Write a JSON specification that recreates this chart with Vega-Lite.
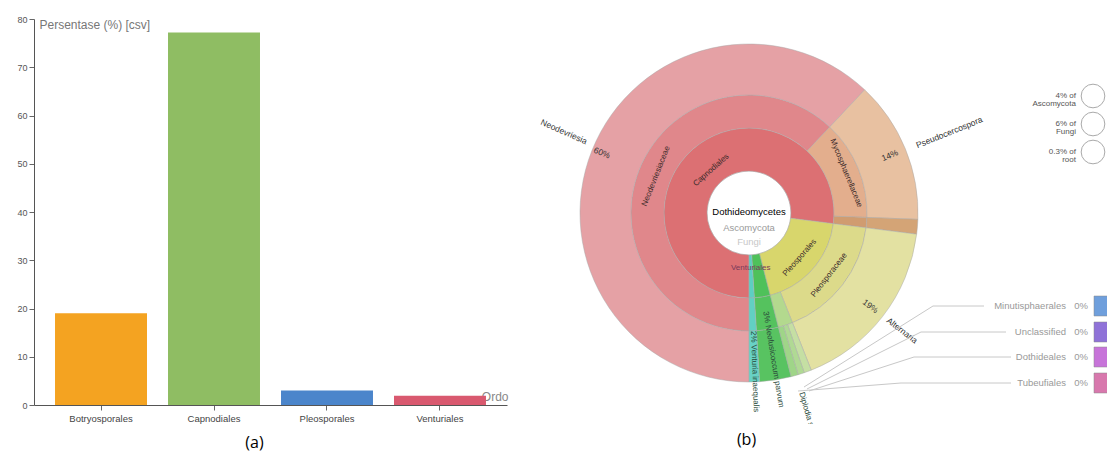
{
  "$schema": "https://vega.github.io/schema/vega-lite/v6.json",
  "background": "white",
  "padding": {"left": 16, "top": 15, "right": 0, "bottom": 0},
  "bounds": "flush",
  "spacing": 20,
  "config": {"view": {"stroke": null}, "font": "Liberation Sans"},
  "datasets": {
    "ordo": [
      {"ordo": "Botryosporales", "persen": 19.0},
      {"ordo": "Capnodiales", "persen": 77.2},
      {"ordo": "Pleosporales", "persen": 3.0},
      {"ordo": "Venturiales", "persen": 1.9}
    ],
    "arcs": [
      {"k": "center", "d0": 0, "d1": 1, "a0": 0, "a1": 100},
      {"k": "Capnodiales", "d0": 1, "d1": 2, "a0": 0, "a1": 77},
      {"k": "Pleosporales", "d0": 1, "d1": 2, "a0": 77, "a1": 96},
      {"k": "GreenOrder", "d0": 1, "d1": 2, "a0": 96, "a1": 99},
      {"k": "Venturiales", "d0": 1, "d1": 2, "a0": 99, "a1": 100},
      {"k": "Neodevriesiaceae", "d0": 2, "d1": 3, "a0": 0, "a1": 62},
      {"k": "Mycosphaerellaceae", "d0": 2, "d1": 3, "a0": 62, "a1": 75.6},
      {"k": "CapnoOther", "d0": 2, "d1": 3, "a0": 75.6, "a1": 77},
      {"k": "Pleosporaceae", "d0": 2, "d1": 3, "a0": 77, "a1": 94},
      {"k": "LightFam", "d0": 2, "d1": 3, "a0": 94, "a1": 96},
      {"k": "GreenFam", "d0": 2, "d1": 3, "a0": 96, "a1": 99},
      {"k": "Venturiaceae", "d0": 2, "d1": 3, "a0": 99, "a1": 100},
      {"k": "Neodevriesia", "d0": 3, "d1": 4, "a0": 0, "a1": 62},
      {"k": "Pseudocercospora", "d0": 3, "d1": 4, "a0": 62, "a1": 75.6},
      {"k": "CapnoGenus", "d0": 3, "d1": 4, "a0": 75.6, "a1": 77},
      {"k": "Alternaria", "d0": 3, "d1": 4, "a0": 77, "a1": 94},
      {"k": "Light1", "d0": 3, "d1": 4, "a0": 94, "a1": 94.7},
      {"k": "Light2", "d0": 3, "d1": 4, "a0": 94.7, "a1": 95.3},
      {"k": "Light3", "d0": 3, "d1": 4, "a0": 95.3, "a1": 96},
      {"k": "GreenGenus", "d0": 3, "d1": 4, "a0": 96, "a1": 99},
      {"k": "Venturia", "d0": 3, "d1": 4, "a0": 99, "a1": 100}
    ],
    "ringLabels": [
      {"t": "Capnodiales", "pos": 38.5, "rr": 1.35},
      {"t": "Neodevriesiaceae", "pos": 31, "rr": 2.45},
      {"t": "Mycosphaerellaceae", "pos": 68.8, "rr": 2.6},
      {"t": "Pleosporales", "pos": 86.5, "rr": 1.6},
      {"t": "Pleosporaceae", "pos": 85.5, "rr": 2.5}
    ],
    "radialLabels": [
      {"t": "60%", "pos": 31.2, "rr": 3.8},
      {"t": "Neodevriesia", "pos": 31.6, "rr": 4.65},
      {"t": "14%", "pos": 68.8, "rr": 3.67},
      {"t": "Pseudocercospora", "pos": 68.9, "rr": 4.92},
      {"t": "19%", "pos": 85.4, "rr": 3.69},
      {"t": "Alternaria", "pos": 85.4, "rr": 4.47}
    ],
    "longLabels": [
      {"t": "3%  Neofusicoccum parvum", "pos": 97.4, "rr": 2.45},
      {"t": "2%  Venturia inaequalis", "pos": 99.45, "rr": 3.0},
      {"t": "Diplodia seriata", "pos": 95.5, "rr": 4.35}
    ],
    "centerText": [
      {"t": "Dothideomycetes", "pos": 50, "rr": 0.02, "lvl": "a"},
      {"t": "Ascomycota", "pos": 0, "rr": 0.36, "lvl": "b"},
      {"t": "Fungi", "pos": 0, "rr": 0.69, "lvl": "c"}
    ],
    "smallLabel": [
      {"t": "Venturiales", "pos": 99.5, "rr": 1.3}
    ],
    "leaders": [
      {"row": 1, "o": 0, "X": 55, "Y": -174}, {"row": 1, "o": 1, "X": 184, "Y": -93}, {"row": 1, "o": 2, "X": 235, "Y": -93},
      {"row": 2, "o": 0, "X": 58, "Y": -176}, {"row": 2, "o": 1, "X": 172, "Y": -119}, {"row": 2, "o": 2, "X": 257, "Y": -119},
      {"row": 3, "o": 0, "X": 60, "Y": -178}, {"row": 3, "o": 1, "X": 165, "Y": -144}, {"row": 3, "o": 2, "X": 262, "Y": -144},
      {"row": 4, "o": 0, "X": 49, "Y": -178}, {"row": 4, "o": 1, "X": 152, "Y": -170}, {"row": 4, "o": 2, "X": 262, "Y": -170}
    ],
    "legendRows": [
      {"name": "Minutisphaerales", "pct": "0%", "Y": -93},
      {"name": "Unclassified", "pct": "0%", "Y": -119},
      {"name": "Dothideales", "pct": "0%", "Y": -144},
      {"name": "Tubeufiales", "pct": "0%", "Y": -170}
    ],
    "pies": [
      {"t": "4% of\nAscomycota", "Y": 117},
      {"t": "6% of\nFungi", "Y": 89},
      {"t": "0.3% of\nroot", "Y": 61}
    ]
  },
  "hconcat": [
    {
      "width": 473,
      "height": 386,
      "data": {"name": "ordo"},
      "title": {"text": "(a)", "orient": "bottom", "frame": "group", "fontSize": 16, "fontWeight": "normal", "font": "Open Sans", "color": "#000", "offset": 12, "dx": -16},
      "mark": {"type": "bar"},
      "encoding": {
        "x": {
          "field": "ordo", "type": "nominal", "sort": null,
          "scale": {"paddingInner": 0.186, "paddingOuter": 0.186},
          "axis": {"title": "Ordo", "titleX": 474, "titleY": -9, "titleAlign": "right", "titleBaseline": "middle", "titleFontSize": 12, "titleFontWeight": "normal", "titleColor": "#888", "labelAngle": 0, "labelFontSize": 9.5, "labelColor": "#444", "tickSize": 5, "tickColor": "#666", "domainColor": "#555", "labelPadding": 3}
        },
        "y": {
          "field": "persen", "type": "quantitative",
          "scale": {"domain": [0, 80], "nice": false},
          "axis": {"title": "Persentase (%) [csv]", "titleAngle": 0, "titleX": 5, "titleY": 5, "titleAlign": "left", "titleBaseline": "middle", "titleFontSize": 12, "titleFontWeight": "normal", "titleColor": "#777", "values": [0, 10, 20, 30, 40, 50, 60, 70, 80], "grid": false, "labelFontSize": 9, "labelColor": "#555", "tickSize": 5, "tickColor": "#666", "domainColor": "#555"}
        },
        "color": {
          "field": "ordo", "type": "nominal",
          "scale": {"domain": ["Botryosporales", "Capnodiales", "Pleosporales", "Venturiales"], "range": ["#f4a321", "#8fbd63", "#4b85cb", "#d9596f"]},
          "legend": null
        }
      }
    },
    {
      "width": 583,
      "height": 405,
      "title": {"text": "(b)", "orient": "bottom", "frame": "group", "fontSize": 16, "fontWeight": "normal", "font": "Open Sans", "color": "#000", "offset": 8, "dx": -72},
      "resolve": {"scale": {"color": "independent"}},
      "layer": [
        {
          "data": {"name": "arcs"},
          "mark": {"type": "arc", "stroke": "#a8a8a8", "strokeWidth": 0.6, "strokeOpacity": 0.8},
          "encoding": {
            "x": {"datum": 0, "type": "quantitative", "scale": {"domain": [-222, 361]}, "axis": null},
            "y": {"datum": 0, "type": "quantitative", "scale": {"domain": [-211, 194]}, "axis": null},
            "theta": {"field": "a0", "type": "quantitative", "stack": null, "scale": {"domain": [0, 100], "range": [3.14159265, 9.42477796]}},
            "theta2": {"field": "a1"},
            "radius": {"field": "d1", "type": "quantitative", "scale": {"type": "linear", "domain": [0, 1, 2, 3, 4], "range": [0, 42, 85, 118, 169], "zero": false}},
            "radius2": {"field": "d0"},
            "color": {
              "field": "k", "type": "nominal", "legend": null,
              "scale": {
                "domain": ["center", "Capnodiales", "Pleosporales", "GreenOrder", "Venturiales", "Neodevriesiaceae", "Mycosphaerellaceae", "CapnoOther", "Pleosporaceae", "LightFam", "GreenFam", "Venturiaceae", "Neodevriesia", "Pseudocercospora", "CapnoGenus", "Alternaria", "Light1", "Light2", "Light3", "GreenGenus", "Venturia"],
                "range": ["#ffffff", "#dc7073", "#d8d66c", "#4fc15a", "#5dcfc2", "#e0878b", "#e3ae8d", "#d09c70", "#dcda8a", "#b3d98e", "#55c25e", "#62d0c3", "#e5a1a5", "#e8c1a1", "#d4a476", "#e3e1a2", "#c5dfa3", "#b0d994", "#9fd588", "#58c361", "#68d2c5"]
              }
            }
          }
        },
        {
          "data": {"name": "ringLabels"},
          "transform": [
            {"calculate": "(180 + datum.pos * 3.6) % 360", "as": "phi"},
            {"calculate": "datum.phi > 90 && datum.phi < 270 ? datum.phi - 180 : (datum.phi >= 270 ? datum.phi - 360 : datum.phi)", "as": "rot"}
          ],
          "mark": {"type": "text", "fontSize": 8, "color": "#3a2a2a", "align": "center", "baseline": "middle"},
          "encoding": {
            "x": {"datum": 0, "type": "quantitative", "scale": {"domain": [-222, 361]}, "axis": null},
            "y": {"datum": 0, "type": "quantitative", "scale": {"domain": [-211, 194]}, "axis": null},
            "theta": {"field": "pos", "type": "quantitative", "stack": null, "scale": {"domain": [0, 100], "range": [3.14159265, 9.42477796]}},
            "radius": {"field": "rr", "type": "quantitative", "scale": {"type": "linear", "domain": [0, 1, 2, 3, 4], "range": [0, 42, 85, 118, 169], "zero": false}},
            "angle": {"field": "rot", "type": "quantitative", "scale": null},
            "text": {"field": "t"}
          }
        },
        {
          "data": {"name": "radialLabels"},
          "transform": [
            {"calculate": "(180 + datum.pos * 3.6) % 360", "as": "phi"},
            {"calculate": "datum.phi < 180 ? datum.phi - 90 : datum.phi - 270", "as": "rot"}
          ],
          "mark": {"type": "text", "fontSize": 8.5, "color": "#333", "align": "center", "baseline": "middle"},
          "encoding": {
            "x": {"datum": 0, "type": "quantitative", "scale": {"domain": [-222, 361]}, "axis": null},
            "y": {"datum": 0, "type": "quantitative", "scale": {"domain": [-211, 194]}, "axis": null},
            "theta": {"field": "pos", "type": "quantitative", "stack": null, "scale": {"domain": [0, 100], "range": [3.14159265, 9.42477796]}},
            "radius": {"field": "rr", "type": "quantitative", "scale": {"type": "linear", "domain": [0, 1, 2, 3, 4], "range": [0, 42, 85, 118, 169], "zero": false}},
            "angle": {"field": "rot", "type": "quantitative", "scale": null},
            "text": {"field": "t"}
          }
        },
        {
          "data": {"name": "longLabels"},
          "transform": [
            {"calculate": "(180 + datum.pos * 3.6) % 360", "as": "phi"},
            {"calculate": "datum.phi - 90", "as": "rot"}
          ],
          "mark": {"type": "text", "fontSize": 8, "color": "#2a4a3a", "align": "left", "baseline": "middle", "clip": true},
          "encoding": {
            "x": {"datum": 0, "type": "quantitative", "scale": {"domain": [-222, 361]}, "axis": null},
            "y": {"datum": 0, "type": "quantitative", "scale": {"domain": [-211, 194]}, "axis": null},
            "theta": {"field": "pos", "type": "quantitative", "stack": null, "scale": {"domain": [0, 100], "range": [3.14159265, 9.42477796]}},
            "radius": {"field": "rr", "type": "quantitative", "scale": {"type": "linear", "domain": [0, 1, 2, 3, 4], "range": [0, 42, 85, 118, 169], "zero": false}},
            "angle": {"field": "rot", "type": "quantitative", "scale": null},
            "text": {"field": "t"}
          }
        },
        {
          "data": {"name": "smallLabel"},
          "mark": {"type": "text", "fontSize": 8, "color": "#7a3a5a", "align": "center", "baseline": "middle"},
          "encoding": {
            "x": {"datum": 0, "type": "quantitative", "scale": {"domain": [-222, 361]}, "axis": null},
            "y": {"datum": 0, "type": "quantitative", "scale": {"domain": [-211, 194]}, "axis": null},
            "theta": {"field": "pos", "type": "quantitative", "stack": null, "scale": {"domain": [0, 100], "range": [3.14159265, 9.42477796]}},
            "radius": {"field": "rr", "type": "quantitative", "scale": {"type": "linear", "domain": [0, 1, 2, 3, 4], "range": [0, 42, 85, 118, 169], "zero": false}},
            "text": {"field": "t"}
          }
        },
        {
          "data": {"name": "centerText"},
          "mark": {"type": "text", "fontSize": 9.5, "align": "center", "baseline": "middle"},
          "encoding": {
            "x": {"datum": 0, "type": "quantitative", "scale": {"domain": [-222, 361]}, "axis": null},
            "y": {"datum": 0, "type": "quantitative", "scale": {"domain": [-211, 194]}, "axis": null},
            "theta": {"field": "pos", "type": "quantitative", "stack": null, "scale": {"domain": [0, 100], "range": [3.14159265, 9.42477796]}},
            "radius": {"field": "rr", "type": "quantitative", "scale": {"type": "linear", "domain": [0, 1, 2, 3, 4], "range": [0, 42, 85, 118, 169], "zero": false}},
            "text": {"field": "t"},
            "color": {"field": "lvl", "type": "nominal", "legend": null, "scale": {"domain": ["a", "b", "c"], "range": ["#000000", "#9a9a9a", "#c8c8c8"]}},
            "fontWeight": {"field": "lvl", "type": "nominal", "legend": null, "scale": {"domain": ["a", "b", "c"], "range": ["bold", "normal", "normal"]}}
          }
        },
        {
          "data": {"name": "leaders"},
          "mark": {"type": "line", "color": "#c8c8c8", "strokeWidth": 1},
          "encoding": {
            "x": {"field": "X", "type": "quantitative", "scale": {"domain": [-222, 361]}, "axis": null},
            "y": {"field": "Y", "type": "quantitative", "scale": {"domain": [-211, 194]}, "axis": null},
            "detail": {"field": "row"},
            "order": {"field": "o"}
          }
        },
        {
          "data": {"name": "legendRows"},
          "mark": {"type": "text", "fontSize": 9.5, "color": "#999", "align": "right", "baseline": "middle"},
          "encoding": {
            "x": {"datum": 317, "type": "quantitative", "scale": {"domain": [-222, 361]}, "axis": null},
            "y": {"field": "Y", "type": "quantitative", "scale": {"domain": [-211, 194]}, "axis": null},
            "text": {"field": "name"}
          }
        },
        {
          "data": {"name": "legendRows"},
          "mark": {"type": "text", "fontSize": 9.5, "color": "#999", "align": "center", "baseline": "middle"},
          "encoding": {
            "x": {"datum": 332, "type": "quantitative", "scale": {"domain": [-222, 361]}, "axis": null},
            "y": {"field": "Y", "type": "quantitative", "scale": {"domain": [-211, 194]}, "axis": null},
            "text": {"field": "pct"}
          }
        },
        {
          "data": {"name": "legendRows"},
          "mark": {"type": "point", "shape": "square", "filled": true, "size": 400, "opacity": 1, "stroke": "#888", "strokeWidth": 0.5},
          "encoding": {
            "x": {"datum": 355, "type": "quantitative", "scale": {"domain": [-222, 361]}, "axis": null},
            "y": {"field": "Y", "type": "quantitative", "scale": {"domain": [-211, 194]}, "axis": null},
            "color": {"field": "name", "type": "nominal", "legend": null, "scale": {"domain": ["Minutisphaerales", "Unclassified", "Dothideales", "Tubeufiales"], "range": ["#6f9fdc", "#8f72d8", "#c774d9", "#d878ad"]}}
          }
        },
        {
          "data": {"name": "pies"},
          "mark": {"type": "point", "shape": "circle", "filled": true, "size": 560, "fill": "white", "stroke": "#aaa", "strokeWidth": 1, "opacity": 1},
          "encoding": {
            "x": {"datum": 344, "type": "quantitative", "scale": {"domain": [-222, 361]}, "axis": null},
            "y": {"field": "Y", "type": "quantitative", "scale": {"domain": [-211, 194]}, "axis": null}
          }
        },
        {
          "data": {"name": "pies"},
          "mark": {"type": "text", "fontSize": 8, "lineHeight": 8, "lineBreak": "\n", "color": "#555", "align": "right", "baseline": "middle"},
          "encoding": {
            "x": {"datum": 327, "type": "quantitative", "scale": {"domain": [-222, 361]}, "axis": null},
            "y": {"field": "Y", "type": "quantitative", "scale": {"domain": [-211, 194]}, "axis": null},
            "text": {"field": "t"}
          }
        }
      ]
    }
  ]
}
